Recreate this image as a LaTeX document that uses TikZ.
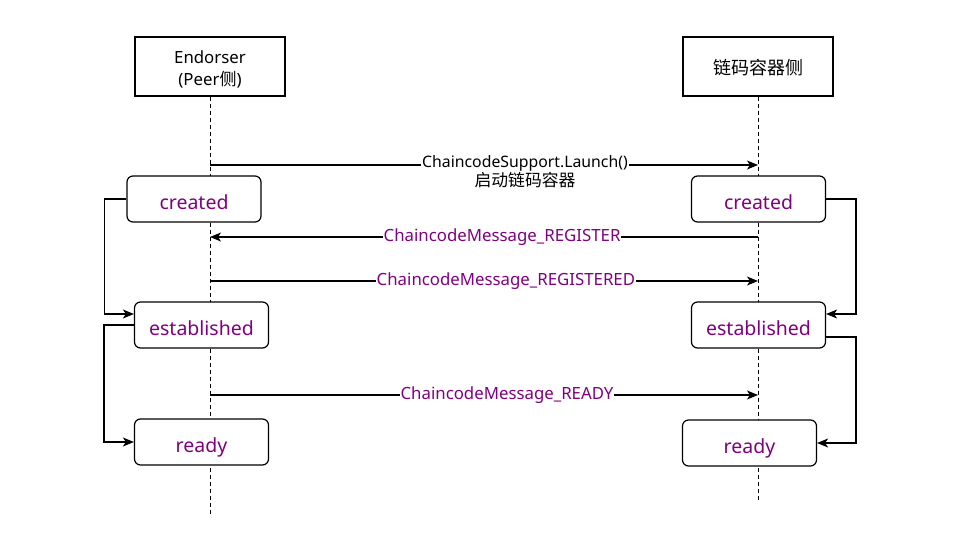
\documentclass[tikz,border=0pt]{standalone}
\usepackage{fontspec}
\setmainfont{Noto Sans}
\newfontfamily\cjk{Noto Sans CJK SC}
\usetikzlibrary{arrows.meta}
\definecolor{purp}{RGB}{128,0,128}
\begin{document}
\begin{tikzpicture}[x=1pt,y=-1pt,
  head/.style={draw, line width=1.2pt, minimum width=150pt, minimum height=59pt, inner sep=0pt, fill=white},
  headtxt/.style={inner sep=0pt, align=center, font=\fontsize{16.8}{22.5}\selectfont},
  state/.style={draw, rounded corners=6pt, line width=1.2pt, minimum width=134pt, minimum height=46pt, inner sep=0pt, fill=white, text=purp, text height=20pt, text depth=0pt, font=\fontsize{19.5}{22}\selectfont},
  life/.style={line width=1pt, dash pattern=on 4pt off 3pt},
  msg/.style={line width=1.3pt, -{Stealth[length=11pt,width=9pt,inset=3pt]}},
  lbl/.style={fill=white, inner sep=1pt, text=purp, font=\fontsize{16.8}{19}\selectfont}]
\useasboundingbox (0,0) rectangle (977,536);
\fill[white] (0,0) rectangle (977,536);
% heads
\node[head, label={[headtxt, yshift=-3pt]center:Endorser\\(Peer{\cjk\fontsize{17}{21}\selectfont 侧})}] (eh) at (210,66.5) {};
\node[head, label={[headtxt, yshift=-1.5pt]center:{\cjk\fontsize{18}{21}\selectfont 链码容器侧}}] (ch) at (758,66.5) {};
% lifelines
\coordinate (lend) at (210,515);
\coordinate (rend) at (758,502);
\draw[life] (eh.south) -- (lend);
\draw[life] (ch.south) -- (rend);
% states
\node[state] (lc) at (194,199) {created};
\node[state] (le) at (201.5,325) {established};
\node[state] (lr) at (201.5,442) {ready};
\node[state] (rc) at (758.5,199) {created};
\node[state] (re) at (758.5,325) {established};
\node[state] (rr) at (749.5,443) {ready};
% message anchor points on lifelines
\coordinate (a1) at (210,165); \coordinate (b1) at (758,165);
\coordinate (a2) at (210,237); \coordinate (b2) at (758,237);
\coordinate (a3) at (210,281); \coordinate (b3) at (758,281);
\coordinate (a4) at (210,395); \coordinate (b4) at (758,395);
\draw[msg] (a1) -- (b1);
\node[fill=white, inner sep=1pt, align=center, font=\fontsize{15.8}{19.5}\selectfont, anchor=north] (launch) at (525,154) {ChaincodeSupport.Launch()\\{\cjk\fontsize{16.8}{19.5}\selectfont 启动链码容器}};
\draw[msg] (b2) -- node[lbl, pos=0.467] (m2) {ChaincodeMessage\_REGISTER} (a2);
\draw[msg] (a3) -- node[lbl, pos=0.54] (m3) {ChaincodeMessage\_REGISTERED} (b3);
\draw[msg] (a4) -- node[lbl, pos=0.542] (m4) {ChaincodeMessage\_READY} (b4);
% state transitions
\draw[msg] (lc.west) -- ++(-22,0) |- ([yshift=11pt]le.west);
\draw[msg] (le.west) -- ++(-30,0) |- (lr.west);
\draw[msg] (rc.east) -- ++(30,0) |- ([yshift=11pt]re.east);
\draw[msg] ([yshift=-12pt]re.east) -- ++(30,0) |- (rr.east);
\end{tikzpicture}
\end{document}
